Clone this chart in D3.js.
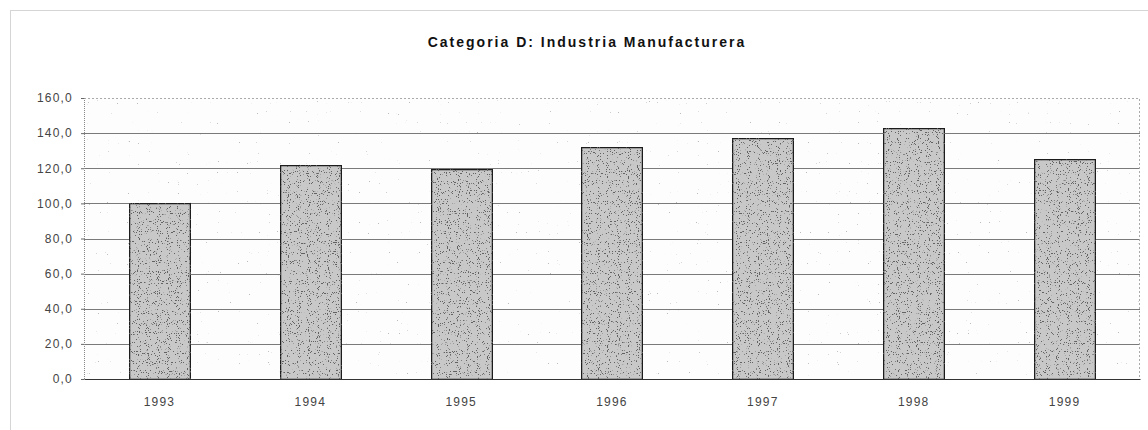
<!DOCTYPE html>
<html lang="es">
<head>
<meta charset="utf-8">
<title>Categoria D: Industria Manufacturera</title>
<script src="https://d3js.org/d3.v7.min.js"></script>
<style>
body{
  margin:0;
  background:#fff;
}
.axis text{
  font: 12px Arial, "Liberation Sans", sans-serif;
  letter-spacing: 1.2px;
  fill:#444;
}
.title{
  font: bold 14px Arial, "Liberation Sans", sans-serif;
  letter-spacing: 2px;
  fill:#111;
}
</style>
</head>
<body>
<div id="chart"></div>
<script>
  const years = ["1993","1994","1995","1996","1997","1998","1999"];
  const values = [100.0, 122.0, 119.5, 132.0, 137.0, 143.0, 125.0];
  const yTicks = [0,20,40,60,80,100,120,140,160];

  var W = 1148, H = 430;
  var margin = {top:98, right:8, bottom:51, left:84};
  var w = 1140 - margin.left, h = 379 - margin.top;

  var svg = d3.select("#chart").append("svg")
    .attr("width", W).attr("height", H);

  // stipple textures (scanned look)
  var defs = svg.append("defs");
  function grain(id, seed, rgb, a, b){
    var f = defs.append("filter").attr("id",id)
      .attr("x",0).attr("y",0).attr("width","100%").attr("height","100%");
    f.append("feTurbulence").attr("type","fractalNoise")
      .attr("baseFrequency",0.9).attr("numOctaves",1).attr("seed",seed).attr("result","n");
    f.append("feColorMatrix").attr("in","n").attr("type","matrix")
      .attr("values","0 0 0 0 "+rgb+"  0 0 0 0 "+rgb+"  0 0 0 0 "+rgb+"  0 0 0 "+a+" "+b).attr("result","dots");
    f.append("feComposite").attr("in","dots").attr("in2","SourceGraphic").attr("operator","in").attr("result","d2");
    f.append("feMerge").selectAll("feMergeNode").data(["SourceGraphic","d2"]).join("feMergeNode").attr("in",d=>d);
  }
  grain("grain", 3, 0.12, 20, -12.6);
  grain("grainLight", 7, 0.5, 20, -15);

  // outer frame
  svg.append("rect")
    .attr("x",10.5).attr("y",10.5).attr("width",W).attr("height",H)
    .attr("fill","none").attr("stroke","#aaa").attr("stroke-dasharray","1,1");

  svg.append("text").attr("class","title")
    .attr("x",587).attr("y",47).attr("text-anchor","middle")
    .text("Categoria D: Industria Manufacturera");

  var chart = svg.append("g")
    .attr("transform","translate("+margin.left+","+margin.top+")");

  var x = d3.scaleBand().domain(years).range([0,w]).paddingInner(0.595).paddingOuter(0.2975);
  var y = d3.scaleLinear().domain([0,160]).range([h,0]);

  chart.append("rect")
    .attr("width",w).attr("height",h)
    .attr("fill","#fdfdfd").attr("filter","url(#grainLight)");

  // gridlines
  chart.append("g")
    .selectAll("line").data(yTicks.slice(1,-1)).join("line")
    .attr("x1",0).attr("x2",w)
    .attr("y1",d=>Math.round(y(d))+0.5).attr("y2",d=>Math.round(y(d))+0.5)
    .attr("stroke","#7a7a7a").attr("stroke-width",1.2);

  // top/right frame
  chart.append("path")
    .attr("d","M0,0.5H"+(w-0.5)+"V"+h)
    .attr("fill","none").attr("stroke","#aaa").attr("stroke-dasharray","2,2");

  chart.selectAll(".bar").data(values).join("rect")
    .attr("class","bar")
    .attr("x",(d,i)=>Math.round(x(years[i]))+0.5)
    .attr("y",d=>Math.round(y(d))+0.5)
    .attr("width",Math.round(x.bandwidth()))
    .attr("height",d=>h-Math.round(y(d)))
    .attr("fill","#c8c8c8").attr("filter","url(#grain)")
    .attr("stroke","#1a1a1a").attr("stroke-width",1.5);

  // y axis
  var ya = chart.append("g").attr("class","axis")
    .call(d3.axisLeft(y).tickValues(yTicks).tickSize(3).tickPadding(8)
      .tickFormat(d=>d3.format(".1f")(d).replace(".",",")));
  ya.select(".domain").attr("stroke","#888").attr("stroke-dasharray","1,1");
  ya.selectAll(".tick line").attr("stroke","#666");

  // x axis
  var xa = chart.append("g").attr("class","axis")
    .attr("transform","translate(0,"+h+")")
    .call(d3.axisBottom(x).tickSize(0).tickPadding(18));
  xa.select(".domain").attr("stroke","#333");
</script>
</body>
</html>
